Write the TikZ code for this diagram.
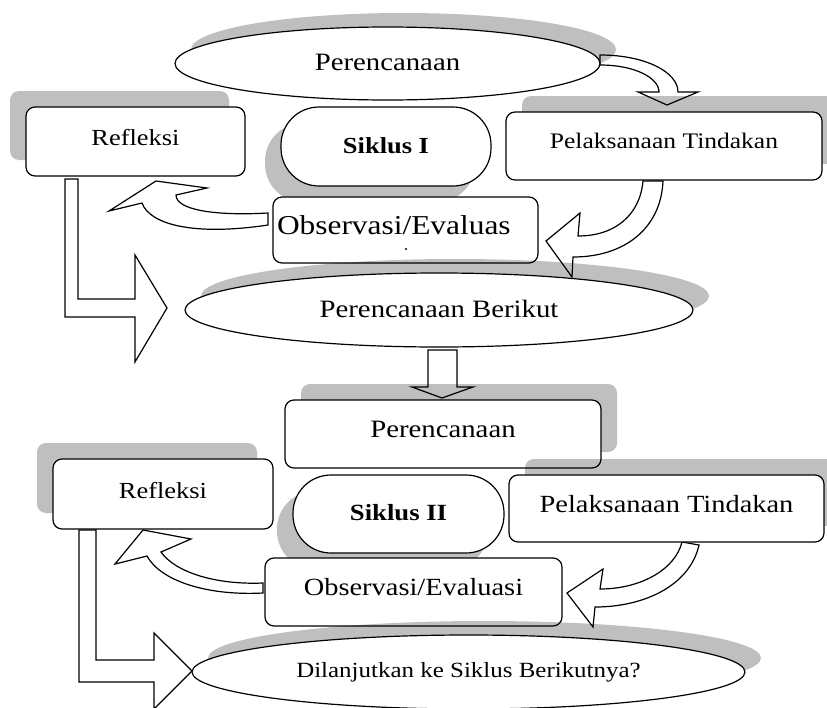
\documentclass[tikz,border=0pt]{standalone}
\usepackage{fontspec}
\setmainfont[FakeStretch=1.15]{Liberation Serif}
\usetikzlibrary{shapes.geometric,shadows}
\newcommand\myfs[1]{\fontsize{#1}{#1}\selectfont}
\begin{document}
\begin{tikzpicture}[x=1pt,y=-1pt,line width=1.2pt,line join=miter,
 shp/.style={draw=black,fill=white,inner sep=0pt,text depth=0pt},
 rbox/.style={shp,rectangle,rounded corners=9pt},
 ellbox/.style={shp,ellipse},
 stadium/.style={shp,rectangle,rounded corners=38pt},
 shUR/.style={drop shadow={shadow xshift=16pt,shadow yshift=16pt,fill=black,opacity=0.25}},
 shUL/.style={drop shadow={shadow xshift=-16pt,shadow yshift=16pt,fill=black,opacity=0.25}},
 shDL/.style={drop shadow={shadow xshift=-16pt,shadow yshift=-16pt,fill=black,opacity=0.25}},
 shEL/.style={drop shadow={shadow xshift=16pt,shadow yshift=14pt,fill=black,opacity=0.25}},
 blockarrow/.style={draw=black,fill=white,line width=1.2pt}]

\useasboundingbox (0,0) rectangle (827,707);

% ---------- block arrows (drawn first, under the shapes and shadows)
% Perencanaan -> Pelaksanaan (cycle I)
\draw[blockarrow] (600,55) .. controls (645,55) and (678,72) .. (678,92) -- (698,92) -- (667,105) -- (638,92) -- (659,92) .. controls (659,78) and (635,65) .. (600,65) -- cycle;
% Pelaksanaan -> Observasi (cycle I)
\draw[blockarrow] (643,181) -- (663,181) .. controls (661,228) and (625,257) .. (573,257) -- (572,277) -- (546,241) -- (580,213) -- (578,236) .. controls (615,236) and (640,215) .. (643,181) -- cycle;
% Observasi -> Refleksi (cycle I)
\draw[blockarrow] (268,213) .. controls (215,216) and (176,210) .. (176,195) -- (207,188) -- (156,181) -- (109,211) -- (142,203) .. controls (150,225) and (195,236) .. (268,225) -- cycle;
% Refleksi -> Perencanaan Berikut
\draw[blockarrow] (65,179) -- (78,179) -- (78,299) -- (135,299) -- (135,255) -- (167,308) -- (135,362) -- (135,317) -- (65,317) -- cycle;
% Perencanaan Berikut -> Perencanaan (cycle II)
\draw[blockarrow] (428,350) -- (457,350) -- (457,387) -- (473,387) -- (442,398) -- (412,387) -- (428,387) -- cycle;
% Pelaksanaan -> Observasi (cycle II)
\draw[blockarrow] (682,542) -- (699,545) .. controls (690,585) and (645,607) .. (595,607) -- (593,627) -- (567,593) -- (603,569) -- (600,589) .. controls (640,589) and (675,570) .. (682,542) -- cycle;
% Observasi -> Refleksi (cycle II)
\draw[blockarrow] (263,583) .. controls (215,585) and (175,572) .. (161,552) -- (191,539) -- (143,530) -- (115,564) -- (147,556) .. controls (160,580) and (205,596) .. (263,593) -- cycle;
% Refleksi -> Dilanjutkan
\draw[blockarrow] (79,530) -- (96,530) -- (96,660) -- (154,660) -- (154,633) -- (192,671) -- (154,709) -- (154,682) -- (79,682) -- cycle;

% ---------- cycle I
\node[ellbox,shEL,minimum width=425pt,minimum height=73pt,text height=13pt,font=\myfs{25}] (p1) at (387.5,63.5) {Perencanaan};
\node[rbox,shUL,minimum width=219pt,minimum height=69pt,text height=7pt,font=\myfs{23}] (r1) at (135.5,141.5) {Refleksi};
\node[stadium,shDL,minimum width=210pt,minimum height=79pt,text height=13pt,font=\myfs{23}\bfseries] (s1) at (386,146.5) {Siklus I};
\node[rbox,shUR,minimum width=316pt,minimum height=68pt,text height=4pt,font=\myfs{22.2}] (pt1) at (664,146) {Pelaksanaan Tindakan};
\node[rbox,minimum width=265pt,minimum height=66pt,text height=8pt,inner xsep=4pt,text width=257pt,align=left,font=\myfs{27.3}] (o1) at (405.5,230) {Observasi/Evaluas};
\fill (406,249) circle (1.1pt);
\node[ellbox,shEL,minimum width=508pt,minimum height=74pt,text height=14pt,font=\myfs{25}] (pb) at (439,310) {Perencanaan Berikut};

% ---------- cycle II
\node[rbox,shUR,minimum width=316pt,minimum height=68pt,text height=6pt,font=\myfs{25}] (p2) at (443,434) {Perencanaan};
\node[rbox,shUL,minimum width=220pt,minimum height=70pt,text height=8pt,font=\myfs{23}] (r2) at (163,494) {Refleksi};
\node[stadium,shDL,minimum width=211pt,minimum height=78pt,text height=12pt,font=\myfs{23.2}\bfseries] (s2) at (398.5,514) {Siklus II};
\node[rbox,shUR,minimum width=315pt,minimum height=67pt,text height=7pt,font=\myfs{24.7}] (pt2) at (666.5,508.5) {Pelaksanaan Tindakan};
\node[rbox,minimum width=297pt,minimum height=68pt,text height=6pt,font=\myfs{24.7}] (o2) at (413.5,592) {Observasi/Evaluasi};
\node[ellbox,shEL,minimum width=553pt,minimum height=74pt,text height=10pt,font=\myfs{21.7}] (d) at (468.5,672) {Dilanjutkan ke Siklus Berikutnya?};
\end{tikzpicture}
\end{document}
